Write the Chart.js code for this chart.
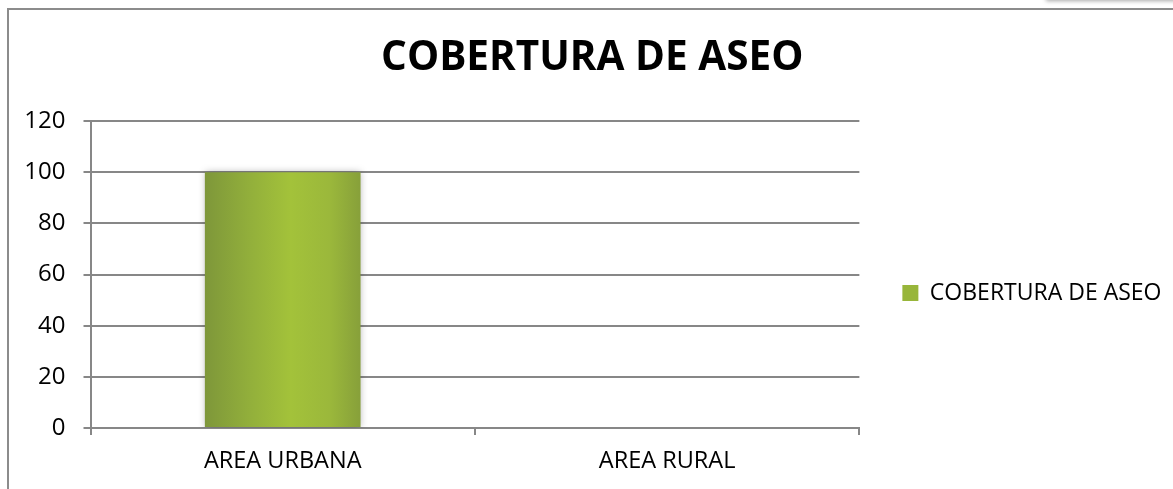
<!DOCTYPE html>
<html>
<head>
<meta charset="utf-8">
<script src="https://cdn.jsdelivr.net/npm/chart.js@4.4.0/dist/chart.umd.min.js"></script>
<style>
  html, body { margin: 0; padding: 0; background: #fff; overflow: hidden; }
  #frame {
    position: absolute; left: 7px; top: 8px; width: 1200px; height: 520px;
    border-top: 2px solid #8c8c8c; border-left: 2px solid #8c8c8c;
  }
  #tab {
    position: absolute; left: 1046px; top: -12px; width: 200px; height: 12px;
    background: #f4f4f4; box-shadow: 0 1px 4px rgba(0,0,0,0.35);
  }
  #wrap { position: absolute; left: 0; top: 0; width: 1173px; height: 489px; }
</style>
</head>
<body>
<div id="frame"></div>
<div id="tab"></div>
<div id="wrap"><canvas id="myChart"></canvas></div>
<script>
  // categories and values
  const categories = ["AREA URBANA", "AREA RURAL"];
  const coverage = [100, 0];
  const seriesName = "COBERTURA DE ASEO";
  const yTicks = { min: 0, max: 120, step: 20 };

  const gridColor = "#878787";
  const font = "'Open Sans', sans-serif";
  const legendPad = 43;

  // olive-green gradient across each bar, darker at the edges
  function barFill(context) {
    const chart = context.chart;
    const xs = chart.scales.x;
    if (!xs || !chart.chartArea) return "#98b63a";
    const cx = xs.getPixelForValue(context.dataIndex);
    const half = (xs.width / categories.length) * 0.405 / 2;
    const g = chart.ctx.createLinearGradient(cx - half, 0, cx + half, 0);
    g.addColorStop(0, "#7e973a");
    g.addColorStop(0.3, "#93b03b");
    g.addColorStop(0.55, "#a3c23a");
    g.addColorStop(0.8, "#9bb83b");
    g.addColorStop(1, "#87a03a");
    return g;
  }

  // soft shadow behind the bars
  const barShadow = {
    id: "barShadow",
    beforeDatasetsDraw(chart) {
      const ctx = chart.ctx;
      ctx.save();
      ctx.shadowColor = "rgba(0,0,0,0.28)";
      ctx.shadowBlur = 7;
      ctx.shadowOffsetX = 0;
      ctx.shadowOffsetY = 0;
    },
    afterDatasetsDraw(chart) {
      chart.ctx.restore();
    },
  };

  // the layout caps side boxes at a quarter of the width, let the legend keep its full text width
  const legendWidth = {
    id: "legendWidth",
    beforeLayout(chart) {
      const lg = chart.legend;
      if (!lg || lg._wideFit) return;
      const fit = lg.fit;
      lg.fit = function () {
        fit.call(this);
        const hb = this.legendHitBoxes && this.legendHitBoxes[0];
        if (hb) this.width = Math.max(this.width, legendPad + hb.width + 2);
      };
      lg._wideFit = true;
    },
  };

  function drawChart() {
    const ctx = document.getElementById("myChart").getContext("2d");
    return new Chart(ctx, {
      type: "bar",
      data: {
        labels: categories,
        datasets: [
          {
            label: seriesName,
            data: coverage,
            backgroundColor: barFill,
            borderWidth: 0,
            barPercentage: 0.405,
            categoryPercentage: 1,
          },
        ],
      },
      plugins: [barShadow, legendWidth],
      options: {
        responsive: true,
        maintainAspectRatio: false,
        animation: false,
        layout: { padding: { left: 21, right: 9.5, top: 0, bottom: 0 } },
        plugins: {
          title: {
            display: true,
            text: seriesName,
            color: "#000",
            font: { family: font, size: 40.5, weight: "bold" },
            padding: { top: 34.5, bottom: 38 },
          },
          legend: {
            position: "right",
            // empty legend title just pushes the entry down
            title: { display: true, text: " ", font: { size: 10 }, padding: { top: 85, bottom: 0 } },
            labels: {
              color: "#000",
              font: { family: font, size: 23 },
              boxWidth: 16,
              boxHeight: 16,
              padding: legendPad,
              generateLabels(chart) {
                const items = Chart.defaults.plugins.legend.labels.generateLabels(chart);
                items.forEach((it) => {
                  it.fillStyle = "#98b63a";
                  it.strokeStyle = "#98b63a";
                  it.lineWidth = 0;
                });
                return items;
              },
            },
          },
          tooltip: { enabled: false },
        },
        scales: {
          x: {
            afterFit(scale) { scale.height = 61; },
            border: { color: gridColor, width: 2 },
            grid: {
              offset: true,
              drawOnChartArea: false,
              drawTicks: true,
              tickLength: 7,
              color: gridColor,
              lineWidth: 2,
            },
            ticks: {
              color: "#000",
              font: { family: font, size: 23.5 },
              padding: 12,
            },
          },
          y: {
            min: yTicks.min,
            max: yTicks.max,
            afterFit(scale) { scale.width = 69.5; },
            border: { color: gridColor, width: 2 },
            grid: {
              color: gridColor,
              lineWidth: 2,
              tickLength: 7,
            },
            ticks: {
              stepSize: yTicks.step,
              color: "#000",
              font: { family: font, size: 24 },
              padding: 18,
            },
          },
        },
      },
    });
  }

  document.fonts.load("24px 'Open Sans'").then(drawChart, drawChart);
</script>
</body>
</html>
